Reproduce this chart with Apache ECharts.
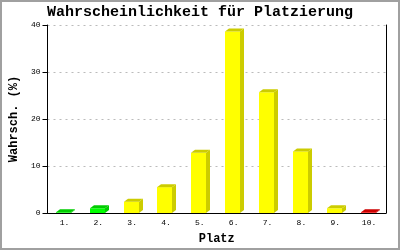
<!DOCTYPE html>
<html><head><meta charset="utf-8">
<script src="https://cdn.jsdelivr.net/npm/echarts@6/dist/echarts.min.js"></script>
<style>html,body{margin:0;padding:0;background:#fff}#c{width:400px;height:250px}</style>
</head><body><div id="c"></div>
<script>
const categories = ['1.', '2.', '3.', '4.', '5.', '6.', '7.', '8.', '9.', '10.'];
const values = [0.15, 1.0, 2.4, 5.5, 12.8, 38.6, 25.7, 13.1, 1.0, 0.15];
const yTicks = [0, 10, 20, 30, 40];

const frontColors = ['#00ff00','#00ff00','#ffff00','#ffff00','#ffff00','#ffff00','#ffff00','#ffff00','#ffff00','#ff0000'];
const sideColors  = ['#00cc00','#00cc00','#cccc00','#cccc00','#cccc00','#cccc00','#cccc00','#cccc00','#cccc00','#cc0000'];

const chart = echarts.init(document.getElementById('c'), null, {renderer: 'canvas'});
const mono = 'Liberation Mono';
chart.setOption({
  animation: false,
  backgroundColor: '#fff',
  title: {
    text: 'Wahrscheinlichkeit für Platzierung',
    left: 'center', top: 5, padding: 0,
    textStyle: {fontFamily: mono, fontWeight: 'bold', fontSize: 15, color: '#000'}
  },
  graphic: [{
    type: 'rect', shape: {x: 1, y: 1, width: 398, height: 248},
    style: {fill: 'none', stroke: '#a0a0a0', lineWidth: 2}, silent: true
  }],
  grid: {left: 43, right: 14, top: 25, bottom: 36, containLabel: false},
  xAxis: {
    type: 'category', data: categories,
    name: 'Platz', nameLocation: 'middle', nameGap: 20,
    nameTextStyle: {fontFamily: mono, fontWeight: 'bold', fontSize: 12, color: '#000'},
    axisLine: {show: true, lineStyle: {color: '#000', width: 1}},
    axisTick: {show: false},
    axisLabel: {fontFamily: mono, fontSize: 8, color: '#000', margin: 6},
    splitLine: {show: false}
  },
  yAxis: [{
    type: 'value', min: yTicks[0], max: yTicks[yTicks.length - 1], interval: 10,
    name: 'Wahrsch. (%)', nameLocation: 'middle', nameGap: 26,
    nameTextStyle: {fontFamily: mono, fontWeight: 'bold', fontSize: 12, color: '#000'},
    axisLine: {show: true, lineStyle: {color: '#000', width: 1}},
    axisTick: {show: true, length: 5, lineStyle: {color: '#000'}},
    axisLabel: {fontFamily: mono, fontSize: 8, color: '#000', margin: 7},
    splitLine: {show: true, lineStyle: {color: '#bbbbbb', type: [2, 4], width: 1}}
  }, {
    type: 'value', min: yTicks[0], max: yTicks[yTicks.length - 1], interval: 10, position: 'right',
    axisLine: {show: true, lineStyle: {color: '#000', width: 1}},
    axisTick: {show: false}, axisLabel: {show: false}, splitLine: {show: false}
  }],
  series: [{
    type: 'custom',
    data: values.map((v, i) => [i, v]),
    encode: {x: 0, y: 1},
    renderItem: function (params, api) {
      const i = api.value(0);
      const base = api.coord([i, 0]);
      const top = api.coord([i, api.value(1)]);
      const w = 15, dx = 4, dy = 3;
      const left = Math.round(base[0] - 8.5);
      const right = left + w;
      const yb = base[1], yt = top[1];
      return {
        type: 'group',
        children: [
          {type: 'rect', shape: {x: left, y: yt, width: w, height: yb - yt},
           style: {fill: frontColors[i]}},
          {type: 'polygon', shape: {points: [[right, yb], [right, yt], [right + dx, yt - dy], [right + dx, yb - dy]]},
           style: {fill: sideColors[i]}},
          {type: 'polygon', shape: {points: [[left, yt], [left + dx, yt - dy], [right + dx, yt - dy], [right, yt]]},
           style: {fill: sideColors[i]}}
        ]
      };
    }
  }]
});
</script></body></html>
